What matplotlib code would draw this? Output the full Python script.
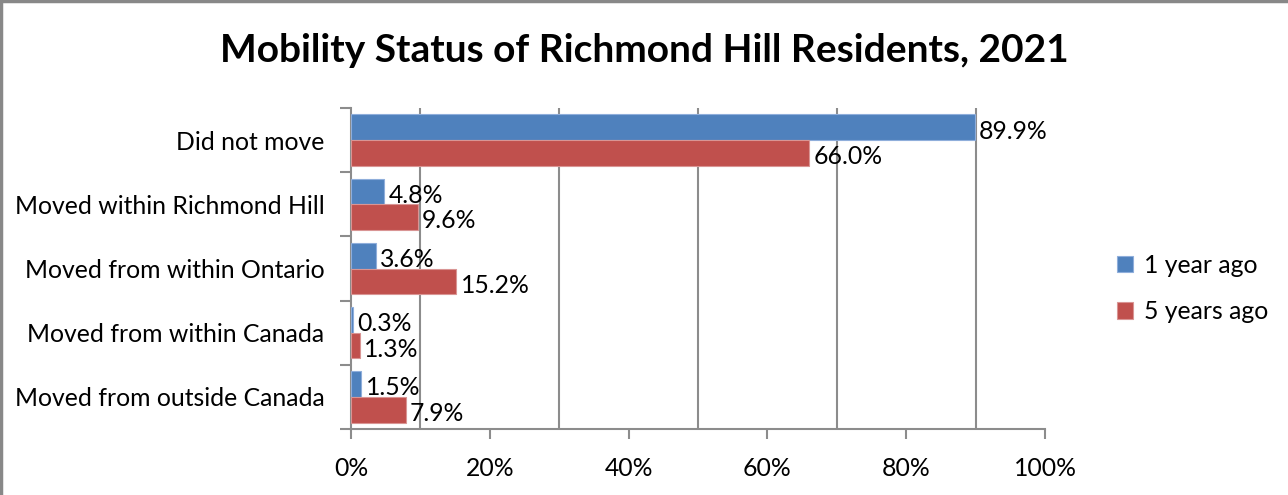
import numpy as np
import matplotlib
matplotlib.use('Agg')
import matplotlib.pyplot as plt
from matplotlib.lines import Line2D

plt.rcParams['font.family'] = ['Lato', 'DejaVu Sans']

categories = ['Did not move', 'Moved within Richmond Hill', 'Moved from within Ontario',
              'Moved from within Canada', 'Moved from outside Canada']
one_year = [89.9, 4.8, 3.6, 0.3, 1.5]
five_years = [66.0, 9.6, 15.2, 1.3, 7.9]
series_labels = ['1 year ago', '5 years ago']

blue = '#4F81BD'
red = '#C0504D'
grid_c = '#8C8C8C'
fs = 17.8

fig = plt.figure(figsize=(12.88, 4.95), dpi=100)
ax = fig.add_axes([351 / 1288, 1 - 429 / 495, 694 / 1288, 321 / 495])

y = np.arange(len(categories))
h = 0.4
b1 = ax.barh(y - h / 2, one_year, height=h, color=blue, edgecolor='#8FAEDB', linewidth=0.8,
             label=series_labels[0], zorder=3)
b2 = ax.barh(y + h / 2, five_years, height=h, color=red, edgecolor='#D99594', linewidth=0.8,
             label=series_labels[1], zorder=3)

for bars in (b1, b2):
    for bar in bars:
        w = bar.get_width()
        ax.text(w + 0.6, bar.get_y() + bar.get_height() / 2 + 0.06, f'{w:.1f}%',
                ha='left', va='center', fontsize=fs, zorder=4)

ax.set_xlim(0, 100)
ax.set_ylim(len(categories) - 0.5, -0.5)

ax.set_xticks(np.arange(0, 101, 20))
ax.set_xticklabels([f'{v}%' for v in range(0, 101, 20)], fontsize=fs)
ax.set_xticks(np.arange(10, 101, 10), minor=True)
ax.tick_params(axis='x', which='major', length=7, width=1.5, color=grid_c, pad=13)
ax.tick_params(axis='x', which='minor', length=0)
ax.grid(axis='x', which='minor', color=grid_c, linewidth=1.5, zorder=0)

ax.set_yticks(y)
ax.set_yticklabels(categories, fontsize=fs)
ax.set_yticks(np.arange(-0.5, len(categories), 1), minor=True)
ax.tick_params(axis='y', which='major', length=0, pad=19)
ax.tick_params(axis='y', which='minor', length=8, width=1.5, color=grid_c)

for s in ('top', 'right'):
    ax.spines[s].set_visible(False)
for s in ('left', 'bottom'):
    ax.spines[s].set_color(grid_c)
    ax.spines[s].set_linewidth(1.5)

fig.text(0.5, 1 - 50 / 495, 'Mobility Status of Richmond Hill Residents, 2021',
         ha='center', va='center', fontsize=28, fontweight='bold')

ax.legend(loc='center left', bbox_to_anchor=((1095 - 351) / 694, 0.438), frameon=False,
          fontsize=fs, handlelength=0.65, handleheight=0.65, handletextpad=0.45,
          labelspacing=0.95)

fig.add_artist(Line2D([1 / 1288, 1 / 1288], [0, 1], transform=fig.transFigure,
                      color='#888888', linewidth=2.5))
fig.add_artist(Line2D([0, 1], [1 - 1 / 495, 1 - 1 / 495], transform=fig.transFigure,
                      color='#888888', linewidth=2.5))

fig.savefig('out.png', dpi=100)
